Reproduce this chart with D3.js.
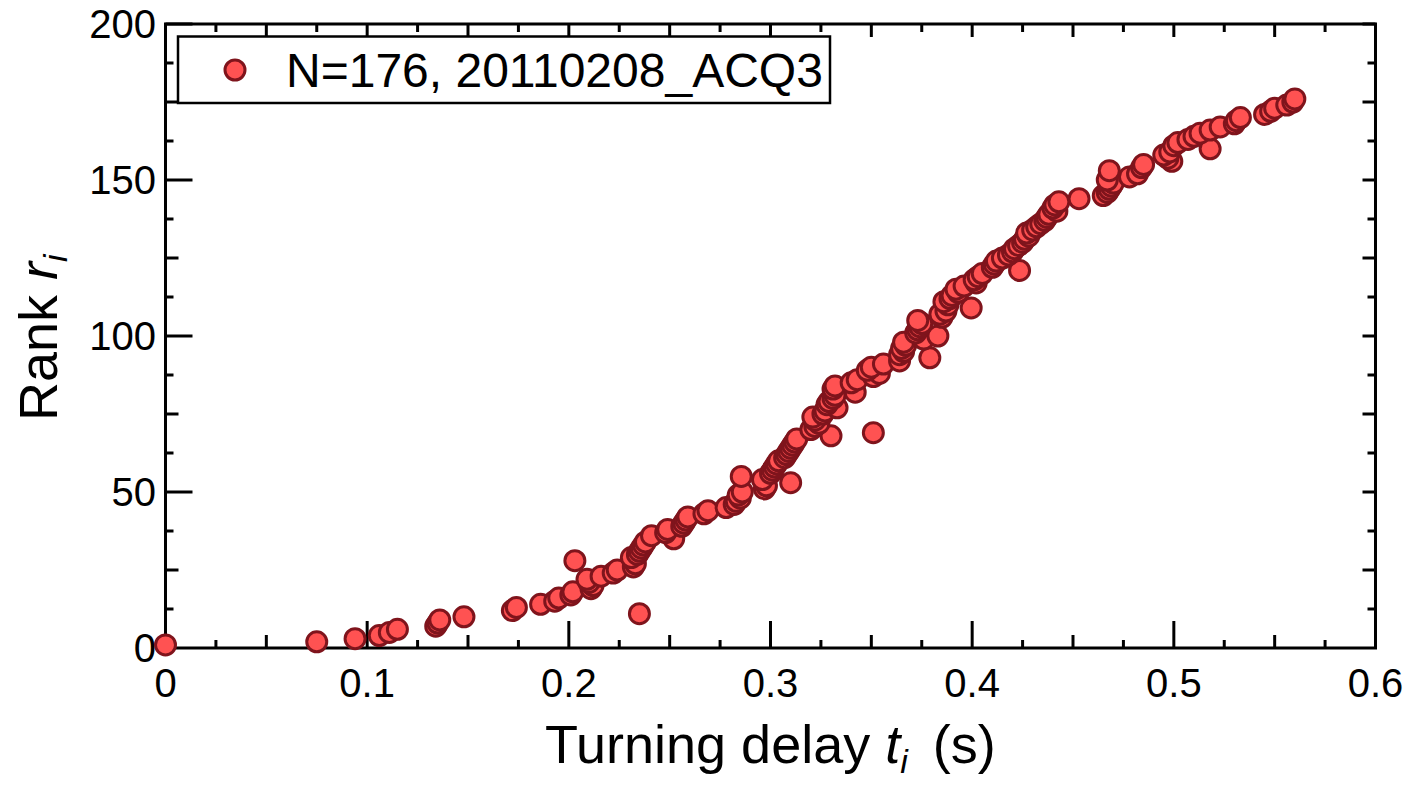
<!DOCTYPE html>
<html><head><meta charset="utf-8">
<script src="https://cdn.jsdelivr.net/npm/d3@7"></script>
<style>html,body{margin:0;padding:0;background:#fff;}svg{display:block;font-family:"Liberation Sans",Arial,sans-serif;}</style>
</head><body><svg id="c" width="1413" height="790"></svg>
<script>
const ranks = [1,2,3,4,5,6,7,8,9,10,11,12,13,14,15,16,17,18,19,20,21,22,23,24,25,26,27,28,29,30,31,32,33,34,35,36,37,38,39,40,41,42,43,44,45,46,47,48,49,50,51,52,53,54,55,56,57,58,59,60,61,62,63,64,65,66,67,68,69,70,71,72,73,74,75,76,77,78,79,80,81,82,83,84,85,86,87,88,89,90,91,92,93,94,95,96,97,98,99,100,101,102,103,104,105,106,107,108,109,110,111,112,113,114,115,116,117,118,119,120,121,122,123,124,125,126,127,128,129,130,131,132,133,134,135,136,137,138,139,140,141,142,143,144,145,146,147,148,149,150,151,152,153,154,155,156,157,158,159,160,161,162,163,164,165,166,167,168,169,170,171,172,173,174,175,176];
const delays = [
 0.000,0.075,0.094,0.106,0.111,0.115,0.134,0.135,0.136,0.148,
 0.235,0.172,0.174,0.186,0.193,0.195,0.201,0.202,0.211,0.212,
 0.210,0.209,0.216,0.222,0.224,0.232,0.233,0.203,0.231,0.234,
 0.235,0.236,0.237,0.238,0.252,0.241,0.248,0.249,0.256,0.257,
 0.258,0.259,0.267,0.269,0.278,0.282,0.283,0.285,0.284,0.286,
 0.297,0.298,0.310,0.296,0.2855,0.300,0.301,0.302,0.303,0.304,
 0.307,0.308,0.309,0.310,0.311,0.312,0.313,0.330,0.351,0.320,
 0.322,0.324,0.322,0.321,0.326,0.327,0.333,0.328,0.329,0.331,
 0.332,0.342,0.331,0.332,0.340,0.343,0.351,0.354,0.348,0.350,
 0.356,0.364,0.379,0.364,0.366,0.365,0.367,0.366,0.376,0.383,
 0.372,0.373,0.374,0.375,0.373,0.385,0.384,0.387,0.3995,0.388,
 0.386,0.389,0.390,0.393,0.392,0.396,0.402,0.401,0.403,0.405,
 0.4235,0.410,0.411,0.412,0.415,0.418,0.420,0.421,0.423,0.425,
 0.426,0.428,0.427,0.430,0.432,0.434,0.436,0.437,0.438,0.442,
 0.440,0.441,0.443,0.453,0.465,0.467,0.468,0.469,0.470,0.467,
 0.478,0.482,0.468,0.484,0.485,0.499,0.497,0.495,0.498,0.518,
 0.500,0.502,0.507,0.510,0.513,0.518,0.523,0.530,0.531,0.533,
 0.545,0.548,0.550,0.556,0.559,0.560];
const xTickLabels = ["0","0.1","0.2","0.3","0.4","0.5","0.6"];
const xTickValues = [0,0.1,0.2,0.3,0.4,0.5,0.6];
const yTickLabels = ["0","50","100","150","200"];
const yTickValues = [0,50,100,150,200];
const legendLabel = "N=176, 20110208_ACQ3";

const svg = d3.select("#c");
const x = d3.scaleLinear().domain([0,0.6]).range([165.5,1375.5]);
const y = d3.scaleLinear().domain([0,200]).range([648,24]);
const fill = "#ff5252", stroke = "#7f141c";

const g = svg.append("g");
const near = (v,m)=>Math.abs(v/m - Math.round(v/m))<1e-6;
const xt = d3.range(0,25).map(i=>i*0.025);
xt.forEach(v=>{
  if (v===0) return;
  const lb = near(v,0.1)?27:(near(v,0.05)?13:8);
  g.append("line").attr("x1",x(v)).attr("x2",x(v)).attr("y1",y(0)).attr("y2",y(0)-lb).attr("stroke","#000").attr("stroke-width",3);
  const lt = near(v,0.05)?13:8;
  g.append("line").attr("x1",x(v)).attr("x2",x(v)).attr("y1",y(200)).attr("y2",y(200)+lt).attr("stroke","#000").attr("stroke-width",3);
});
const yt = d3.range(0,17).map(i=>i*12.5);
yt.forEach(v=>{
  if (v===0) return;
  const ll = near(v,50)?27:(near(v,25)?13:8);
  g.append("line").attr("y1",y(v)).attr("y2",y(v)).attr("x1",x(0)).attr("x2",x(0)+ll).attr("stroke","#000").attr("stroke-width",3);
  const lr = near(v,25)?13:8;
  g.append("line").attr("y1",y(v)).attr("y2",y(v)).attr("x1",x(0.6)).attr("x2",x(0.6)-lr).attr("stroke","#000").attr("stroke-width",3);
});
g.append("rect").attr("x",x(0)).attr("y",y(200)).attr("width",x(0.6)-x(0)).attr("height",y(0)-y(200))
  .attr("fill","none").attr("stroke","#000").attr("stroke-width",3);

xTickValues.forEach((v,i)=>{
  svg.append("text").attr("x",x(v)).attr("y",697).attr("text-anchor","middle")
    .attr("font-size",40).text(xTickLabels[i]);
});
yTickValues.forEach((v,i)=>{
  svg.append("text").attr("x",156).attr("y",y(v)+14).attr("text-anchor","end")
    .attr("font-size",40).text(yTickLabels[i]);
});

const xt1 = svg.append("text").attr("x",545).attr("y",763).attr("font-size",54);
xt1.append("tspan").text("Turning delay ");
xt1.append("tspan").attr("font-style","italic").text("t");
xt1.append("tspan").attr("font-style","italic").attr("font-size",34).attr("dy",10).text("i");
xt1.append("tspan").attr("dy",-10).attr("dx",10).text(" (s)");

const yt1 = svg.append("text").attr("transform","translate(57,421) rotate(-90)").attr("font-size",54);
yt1.append("tspan").text("Rank ");
yt1.append("tspan").attr("font-style","italic").text("r");
yt1.append("tspan").attr("font-style","italic").attr("font-size",34).attr("dy",10).text("i");

svg.append("g").selectAll("circle").data(ranks.map((r,i)=>({r,t:delays[i]}))).join("circle")
  .attr("cx",d=>x(d.t)).attr("cy",d=>y(d.r)).attr("r",10)
  .attr("fill",fill).attr("stroke",stroke).attr("stroke-width",3);

const lg = svg.append("g");
lg.append("rect").attr("x",178).attr("y",36.5).attr("width",652).attr("height",66.5)
  .attr("fill","#fff").attr("stroke","#000").attr("stroke-width",2.5);
lg.append("circle").attr("cx",235).attr("cy",70).attr("r",10).attr("fill",fill).attr("stroke",stroke).attr("stroke-width",3);
lg.append("text").attr("x",286).attr("y",87).attr("font-size",48).text(legendLabel);
</script></body></html>
